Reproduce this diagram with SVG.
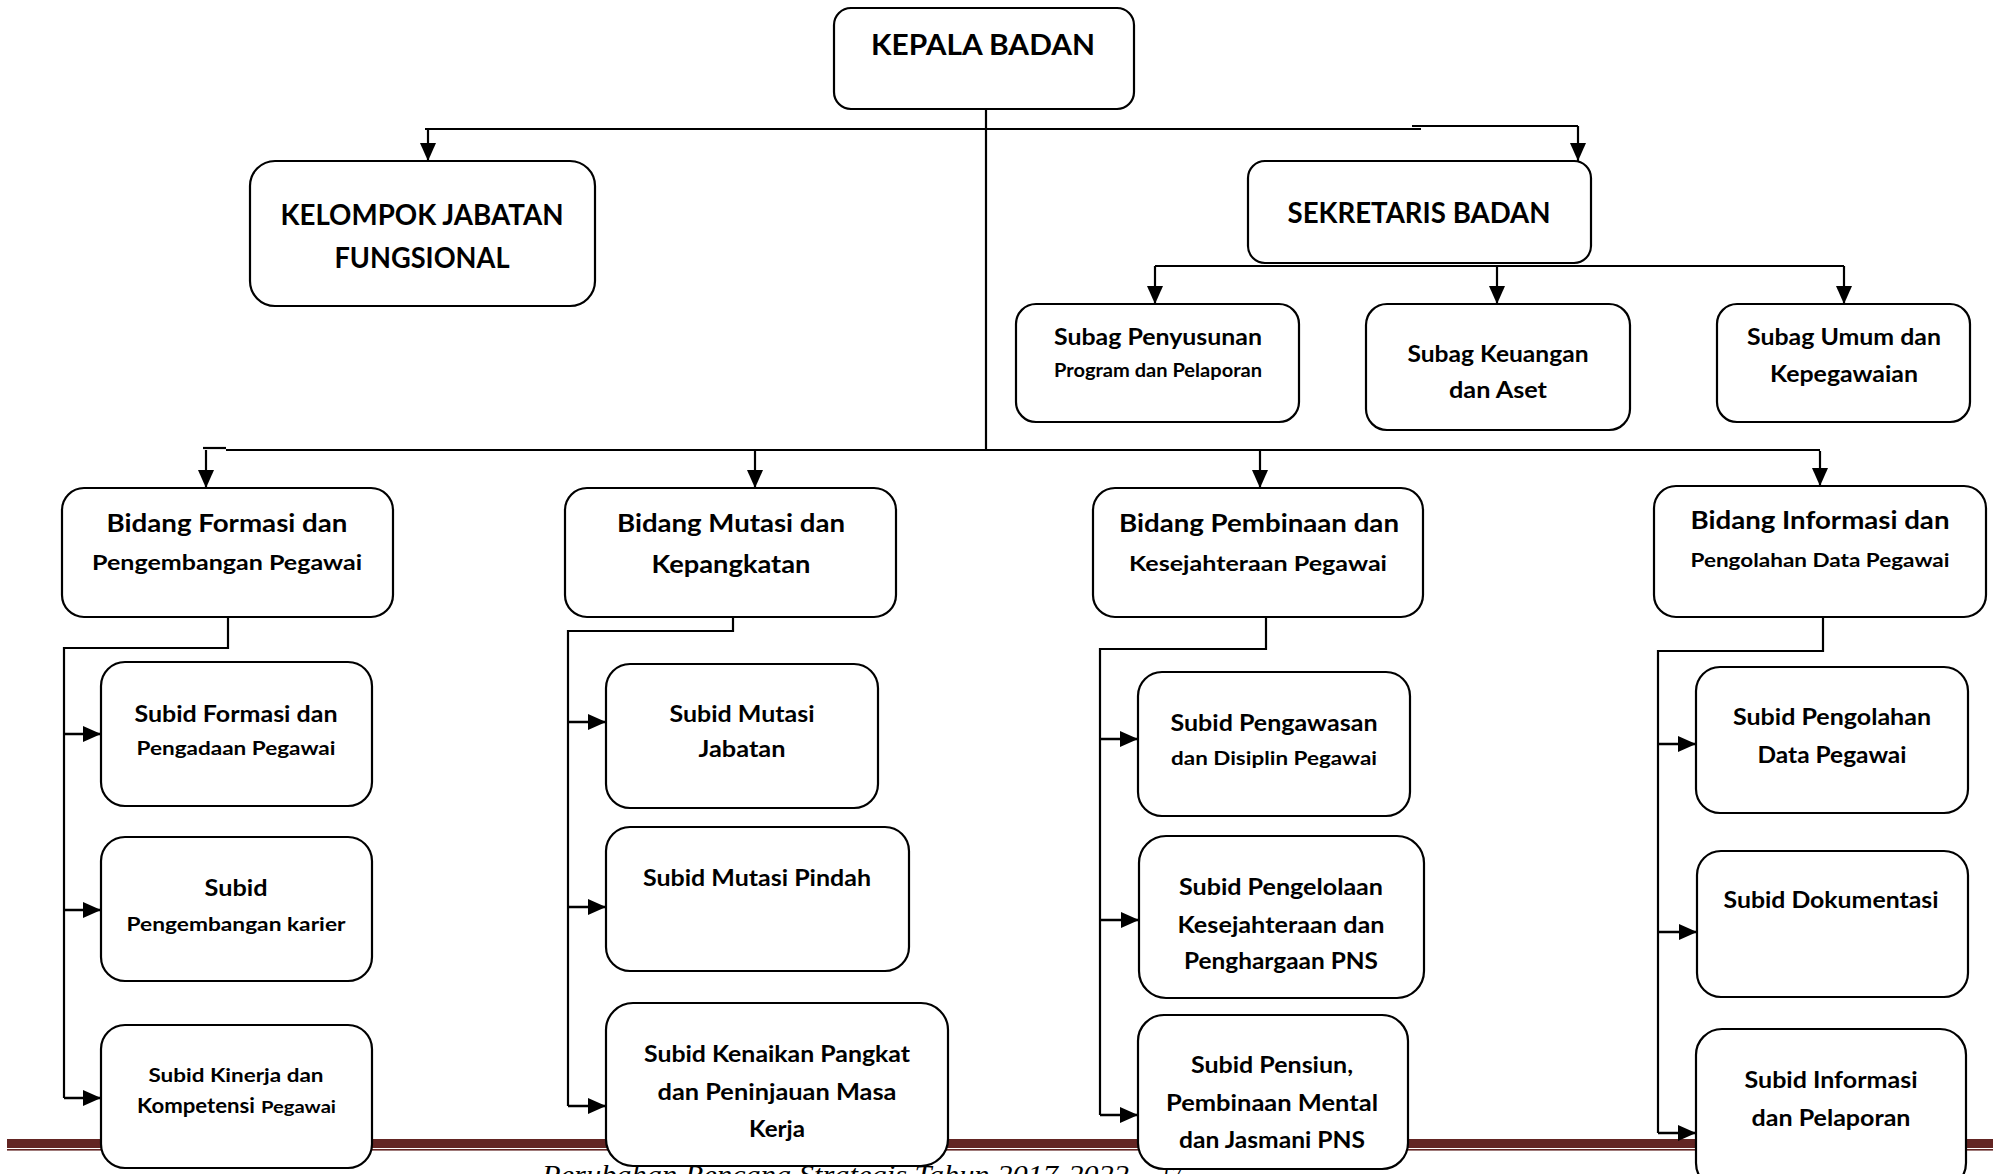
<svg xmlns="http://www.w3.org/2000/svg" width="1993" height="1174" viewBox="0 0 1993 1174">
<style>
.box{fill:#fff;stroke:#000;stroke-width:2.2}
.ln{fill:none;stroke:#000;stroke-width:2.2}
.ar{fill:none;stroke:#000;stroke-width:2.6}
text{font-family:Lato,Carlito,"Noto Sans",sans-serif;font-weight:bold;fill:#000;text-anchor:middle}
.h{font-size:28px}
.b1{font-size:24px}
.b2{font-size:21px}
.s1{font-size:22px}
.s2{font-size:18px}
.foot{font-family:"Liberation Serif",serif;font-style:italic;font-weight:normal;font-size:28px;text-anchor:start}
</style>
<defs>
<marker id="ah" markerWidth="18" markerHeight="16" refX="18" refY="8" orient="auto" markerUnits="userSpaceOnUse"><path d="M0,0 L18,8 L0,16 z" fill="#000"/></marker>
</defs>
<rect width="1993" height="1174" fill="#fff"/>
<g id="footer">
<rect x="7" y="1139" width="1986" height="9" fill="#632523"/>
<rect x="7" y="1149" width="1986" height="1.6" fill="#632523"/>
<text class="foot" x="542" y="1184" textLength="587" lengthAdjust="spacingAndGlyphs">Perubahan Rencana Strategis Tahun 2017-2022</text>
<text class="foot" x="1160" y="1184" textLength="22" lengthAdjust="spacingAndGlyphs">17</text>
</g>
<g id="connectors">
<path class="ln" d="M986,109 V450"/>
<path class="ln" d="M425,129 H1421"/>
<path class="ln" d="M1412,126 H1578"/>
<path class="ln" d="M428,129 V161" marker-end="url(#ah)"/>
<path class="ln" d="M1578,126 V161" marker-end="url(#ah)"/>
<path class="ln" d="M1155,266 H1844"/>
<path class="ln" d="M1155,266 V304" marker-end="url(#ah)"/>
<path class="ln" d="M1497,266 V304" marker-end="url(#ah)"/>
<path class="ln" d="M1844,266 V304" marker-end="url(#ah)"/>
<path class="ln" d="M203,448 H226"/>
<path class="ln" d="M226,450 H1820"/>
<path class="ln" d="M206,450 V488" marker-end="url(#ah)"/>
<path class="ln" d="M755,450 V488" marker-end="url(#ah)"/>
<path class="ln" d="M1260,451 V488" marker-end="url(#ah)"/>
<path class="ln" d="M1820,451 V486" marker-end="url(#ah)"/>
<path class="ln" d="M228,617 V648 H64 V1098"/>
<path class="ar" d="M64,734 H101" marker-end="url(#ah)"/>
<path class="ar" d="M64,910 H101" marker-end="url(#ah)"/>
<path class="ar" d="M64,1098 H101" marker-end="url(#ah)"/>
<path class="ln" d="M733,617 V631 H568 V1106"/>
<path class="ar" d="M568,722 H606" marker-end="url(#ah)"/>
<path class="ar" d="M568,907 H606" marker-end="url(#ah)"/>
<path class="ar" d="M568,1106 H606" marker-end="url(#ah)"/>
<path class="ln" d="M1266,617 V649 H1100 V1115"/>
<path class="ar" d="M1100,739 H1138" marker-end="url(#ah)"/>
<path class="ar" d="M1100,920 H1139" marker-end="url(#ah)"/>
<path class="ar" d="M1100,1115 H1138" marker-end="url(#ah)"/>
<path class="ln" d="M1823,617 V651 H1658 V1133"/>
<path class="ar" d="M1658,744 H1696" marker-end="url(#ah)"/>
<path class="ar" d="M1658,932 H1697" marker-end="url(#ah)"/>
<path class="ar" d="M1658,1133 H1696" marker-end="url(#ah)"/>
</g>
<g id="kepala">
<rect class="box" x="834" y="8" width="300" height="101" rx="17"/>
<text class="h" x="983" y="55" textLength="224" lengthAdjust="spacingAndGlyphs">KEPALA BADAN</text>
</g>
<g id="kelompok">
<rect class="box" x="250" y="161" width="345" height="145" rx="25"/>
<text class="h" x="422" y="225" textLength="283" lengthAdjust="spacingAndGlyphs">KELOMPOK JABATAN</text>
<text class="h" x="422" y="268" textLength="175" lengthAdjust="spacingAndGlyphs">FUNGSIONAL</text>
</g>
<g id="sekretaris">
<rect class="box" x="1248" y="161" width="343" height="102" rx="17"/>
<text class="h" x="1419" y="223" textLength="263" lengthAdjust="spacingAndGlyphs">SEKRETARIS BADAN</text>
</g>
<g id="subag-penyusunan">
<rect class="box" x="1016" y="304" width="283" height="118" rx="20"/>
<text class="s1" x="1158" y="345" textLength="208" lengthAdjust="spacingAndGlyphs">Subag Penyusunan</text>
<text class="s2" x="1158" y="377" textLength="208" lengthAdjust="spacingAndGlyphs">Program dan Pelaporan</text>
</g>
<g id="subag-keuangan">
<rect class="box" x="1366" y="304" width="264" height="126" rx="21"/>
<text class="s1" x="1498" y="362" textLength="181" lengthAdjust="spacingAndGlyphs">Subag Keuangan</text>
<text class="s1" x="1498" y="398" textLength="98" lengthAdjust="spacingAndGlyphs">dan Aset</text>
</g>
<g id="subag-umum">
<rect class="box" x="1717" y="304" width="253" height="118" rx="20"/>
<text class="s1" x="1844" y="345" textLength="194" lengthAdjust="spacingAndGlyphs">Subag Umum dan</text>
<text class="s1" x="1844" y="382" textLength="148" lengthAdjust="spacingAndGlyphs">Kepegawaian</text>
</g>
<g id="bidang-formasi">
<rect class="box" x="62" y="488" width="331" height="129" rx="22"/>
<text class="b1" x="227" y="532" textLength="241" lengthAdjust="spacingAndGlyphs">Bidang Formasi dan</text>
<text class="b2" x="227" y="570" textLength="270" lengthAdjust="spacingAndGlyphs">Pengembangan Pegawai</text>
</g>
<g id="bidang-mutasi">
<rect class="box" x="565" y="488" width="331" height="129" rx="22"/>
<text class="b1" x="731" y="532" textLength="228" lengthAdjust="spacingAndGlyphs">Bidang Mutasi dan</text>
<text class="b1" x="731" y="573" textLength="159" lengthAdjust="spacingAndGlyphs">Kepangkatan</text>
</g>
<g id="bidang-pembinaan">
<rect class="box" x="1093" y="488" width="330" height="129" rx="22"/>
<text class="b1" x="1259" y="532" textLength="280" lengthAdjust="spacingAndGlyphs">Bidang Pembinaan dan</text>
<text class="b2" x="1258" y="571" textLength="258" lengthAdjust="spacingAndGlyphs">Kesejahteraan Pegawai</text>
</g>
<g id="bidang-informasi">
<rect class="box" x="1654" y="486" width="332" height="131" rx="22"/>
<text class="b1" x="1820" y="529" textLength="259" lengthAdjust="spacingAndGlyphs">Bidang Informasi dan</text>
<text class="s2" x="1820" y="567" textLength="259" lengthAdjust="spacingAndGlyphs">Pengolahan Data Pegawai</text>
</g>
<g id="subid-formasi">
<rect class="box" x="101" y="662" width="271" height="144" rx="24"/>
<text class="s1" x="236" y="722" textLength="203" lengthAdjust="spacingAndGlyphs">Subid Formasi dan</text>
<text class="s2" x="236" y="755" textLength="199" lengthAdjust="spacingAndGlyphs">Pengadaan Pegawai</text>
</g>
<g id="subid-pengembangan">
<rect class="box" x="101" y="837" width="271" height="144" rx="24"/>
<text class="s1" x="236" y="896" textLength="63" lengthAdjust="spacingAndGlyphs">Subid</text>
<text class="s2" x="236" y="931" textLength="219" lengthAdjust="spacingAndGlyphs">Pengembangan karier</text>
</g>
<g id="subid-kinerja">
<rect class="box" x="101" y="1025" width="271" height="143" rx="24"/>
<text class="s2" x="236" y="1082" textLength="175" lengthAdjust="spacingAndGlyphs">Subid Kinerja dan</text>
<text class="s2" style="text-anchor:start" y="1113"><tspan x="137" style="font-size:20px" textLength="118" lengthAdjust="spacingAndGlyphs">Kompetensi</tspan><tspan x="261" style="font-size:17px" textLength="75" lengthAdjust="spacingAndGlyphs">Pegawai</tspan></text>
</g>
<g id="subid-mutasi-jabatan">
<rect class="box" x="606" y="664" width="272" height="144" rx="24"/>
<text class="s1" x="742" y="722" textLength="145" lengthAdjust="spacingAndGlyphs">Subid Mutasi</text>
<text class="s1" x="742" y="757" textLength="87" lengthAdjust="spacingAndGlyphs">Jabatan</text>
</g>
<g id="subid-mutasi-pindah">
<rect class="box" x="606" y="827" width="303" height="144" rx="24"/>
<text class="s1" x="757" y="886" textLength="228" lengthAdjust="spacingAndGlyphs">Subid Mutasi Pindah</text>
</g>
<g id="subid-kenaikan">
<rect class="box" x="606" y="1003" width="342" height="163" rx="27"/>
<text class="s1" x="777" y="1062" textLength="266" lengthAdjust="spacingAndGlyphs">Subid Kenaikan Pangkat</text>
<text class="s1" x="777" y="1100" textLength="239" lengthAdjust="spacingAndGlyphs">dan Peninjauan Masa</text>
<text class="s1" x="777" y="1137" textLength="56" lengthAdjust="spacingAndGlyphs">Kerja</text>
</g>
<g id="subid-pengawasan">
<rect class="box" x="1138" y="672" width="272" height="144" rx="24"/>
<text class="s1" x="1274" y="731" textLength="207" lengthAdjust="spacingAndGlyphs">Subid Pengawasan</text>
<text class="s2" x="1274" y="765" textLength="206" lengthAdjust="spacingAndGlyphs">dan Disiplin Pegawai</text>
</g>
<g id="subid-pengelolaan">
<rect class="box" x="1139" y="836" width="285" height="162" rx="27"/>
<text class="s1" x="1281" y="895" textLength="204" lengthAdjust="spacingAndGlyphs">Subid Pengelolaan</text>
<text class="s1" x="1281" y="933" textLength="207" lengthAdjust="spacingAndGlyphs">Kesejahteraan dan</text>
<text class="s1" x="1281" y="969" textLength="194" lengthAdjust="spacingAndGlyphs">Penghargaan PNS</text>
</g>
<g id="subid-pensiun">
<rect class="box" x="1138" y="1015" width="270" height="154" rx="26"/>
<text class="s1" x="1272" y="1073" textLength="162" lengthAdjust="spacingAndGlyphs">Subid Pensiun,</text>
<text class="s1" x="1272" y="1111" textLength="212" lengthAdjust="spacingAndGlyphs">Pembinaan Mental</text>
<text class="s1" x="1272" y="1148" textLength="186" lengthAdjust="spacingAndGlyphs">dan Jasmani PNS</text>
</g>
<g id="subid-pengolahan">
<rect class="box" x="1696" y="667" width="272" height="146" rx="24"/>
<text class="s1" x="1832" y="725" textLength="198" lengthAdjust="spacingAndGlyphs">Subid Pengolahan</text>
<text class="s1" x="1832" y="763" textLength="149" lengthAdjust="spacingAndGlyphs">Data Pegawai</text>
</g>
<g id="subid-dokumentasi">
<rect class="box" x="1697" y="851" width="271" height="146" rx="24"/>
<text class="s1" x="1831" y="908" textLength="215" lengthAdjust="spacingAndGlyphs">Subid Dokumentasi</text>
</g>
<g id="subid-informasi">
<rect class="box" x="1696" y="1029" width="270" height="160" rx="26"/>
<text class="s1" x="1831" y="1088" textLength="173" lengthAdjust="spacingAndGlyphs">Subid Informasi</text>
<text class="s1" x="1831" y="1126" textLength="159" lengthAdjust="spacingAndGlyphs">dan Pelaporan</text>
</g>
</svg>
